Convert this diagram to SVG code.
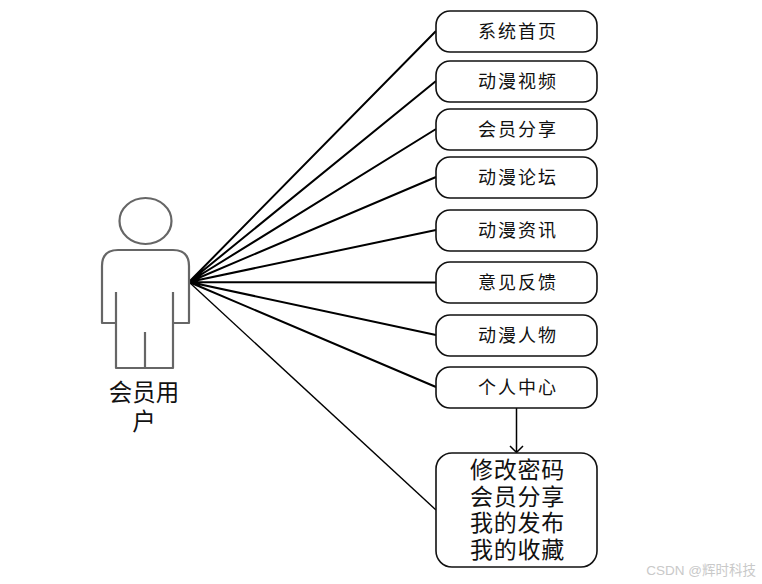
<svg xmlns="http://www.w3.org/2000/svg" width="762" height="584" viewBox="0 0 762 584">
<style>
text{font-family:"Noto Sans CJK SC","Liberation Serif",serif;fill:#111;text-anchor:middle;dominant-baseline:central}
.b{fill:#fff;stroke:#111;stroke-width:1.6}
.t{font-size:18px;letter-spacing:2px}
.big{font-size:23px;letter-spacing:.7px}
.c{stroke:#000;stroke-width:2;fill:none}
.p{fill:#fff;stroke:#666;stroke-width:2.2;stroke-linejoin:round}
.l{font-size:23.5px}
.w{font-family:"Liberation Sans","Noto Sans CJK SC",sans-serif;font-size:13.500px;fill:#c9c9c9;text-anchor:end}
</style>
<rect width="762" height="584" fill="#fff"/>
<g id="connectors">
<path class="c" d="M189 282L436 31M189 282L436 81M189 282L436 129M189 282L436 177M189 282L436 230M189 282L436 282.500M189 282L436 335M189 282L436 387"/>
<path class="c" style="stroke-width:1.4" d="M189 282L436 510"/>
<path class="c" style="stroke-width:1.5" d="M516.500 408V452M510 446L516.500 452.500L523 446"/>
</g>
<g id="user">
<ellipse class="p" cx="145.500" cy="221" rx="26" ry="23"/>
<path class="p" d="M116 323H102V266Q102 250 118 250H173Q189 250 189 266V323H173V368H116Z"/>
<path class="p" style="fill:none" d="M116 292V323M173 292V323M145 332V368"/>
<text class="l"><tspan x="144" y="391">会员用</tspan><tspan x="144" y="420">户</tspan></text>
</g>
<g id="n1"><rect class="b" x="436" y="11" width="161" height="41" rx="14"/><text class="t" x="518" y="30">系统首页</text></g>
<g id="n2"><rect class="b" x="436" y="61" width="161" height="41" rx="14"/><text class="t" x="518" y="79.500">动漫视频</text></g>
<g id="n3"><rect class="b" x="436" y="109" width="161" height="41" rx="14"/><text class="t" x="518" y="128">会员分享</text></g>
<g id="n4"><rect class="b" x="436" y="157" width="161" height="41" rx="14"/><text class="t" x="518" y="176">动漫论坛</text></g>
<g id="n5"><rect class="b" x="436" y="210" width="161" height="41" rx="14"/><text class="t" x="518" y="228.500">动漫资讯</text></g>
<g id="n6"><rect class="b" x="436" y="262" width="161" height="41" rx="14"/><text class="t" x="518" y="281">意见反馈</text></g>
<g id="n7"><rect class="b" x="436" y="315" width="161" height="41" rx="14"/><text class="t" x="518" y="333.500">动漫人物</text></g>
<g id="n8"><rect class="b" x="436" y="367" width="161" height="41" rx="14"/><text class="t" x="518" y="386">个人中心</text></g>
<g id="n9"><rect class="b" x="436" y="453" width="161" height="114" rx="16"/>
<text class="big"><tspan x="517.500" y="467.500">修改密码</tspan><tspan x="517.500" y="494.500">会员分享</tspan><tspan x="517.500" y="520.500">我的发布</tspan><tspan x="517.500" y="547.500">我的收藏</tspan></text></g>
<text class="w" x="756" y="570">CSDN @辉时科技</text>
</svg>
